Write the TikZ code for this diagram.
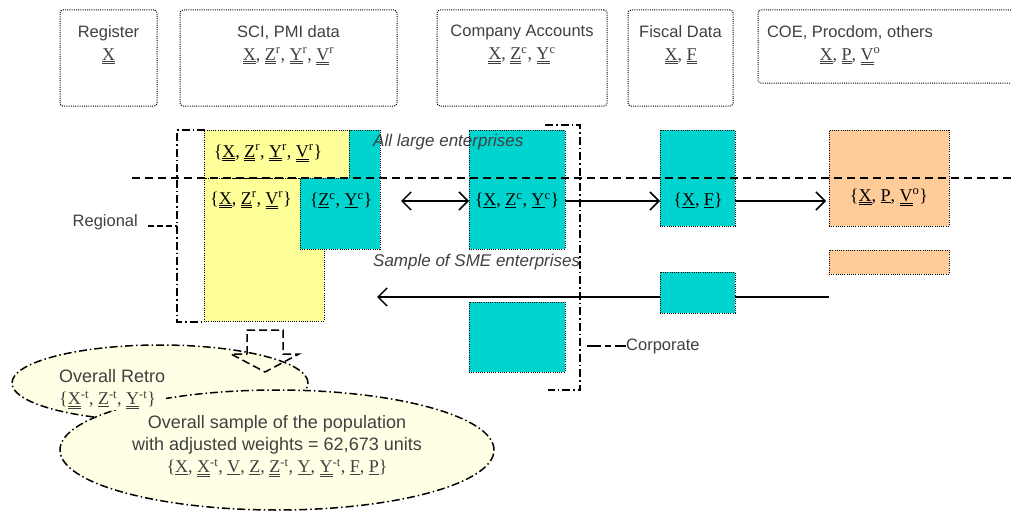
\documentclass[tikz,border=0pt]{standalone}
\usepackage{fontspec}
\setmainfont{Liberation Sans}
\newfontfamily\fm{Liberation Serif}
\usetikzlibrary{arrows.meta,positioning,shapes.geometric,calc}
\definecolor{txtc}{HTML}{404040}
\definecolor{cyanc}{HTML}{00D4CE}
\definecolor{yelc}{HTML}{FFFF99}
\definecolor{orac}{HTML}{FFCC99}
\definecolor{crmc}{HTML}{FFFFE6}
\newcommand{\du}[1]{\underline{\underline{#1}}}
\newcommand{\su}[1]{\underline{#1}}
\newcommand{\tsup}[1]{\textsuperscript{#1}}
\newcommand{\fx}[1]{{\fm\fontsize{18}{20}\selectfont#1}}
\tikzset{
  src/.style={draw,rounded corners=3pt,line width=1pt,dash pattern=on 1pt off 1.2pt,anchor=north west,inner sep=0pt,outer sep=0pt},
  blk/.style={draw,line width=1pt,dash pattern=on 1pt off 1.2pt,anchor=north west,inner sep=0pt,outer sep=0pt},
  lbl/.style={text=txtc,font=\fontsize{16.5}{20}\selectfont,align=center,inner sep=0pt},
  big/.style={lbl,font=\fontsize{18}{21}\selectfont},
  fml/.style={inner sep=0pt,font=\fm\fontsize{18}{20}\selectfont},
  note/.style={text=txtc,font=\fontsize{17}{20}\selectfont\itshape,inner sep=0pt},
  dd/.style={line width=1.5pt,dash pattern=on 8pt off 3pt on 1.5pt off 3pt},
  ar/.style={-{Straight Barb[length=9pt,width=18pt]},line width=1.5pt},
  oval/.style={ellipse,draw,dd,fill=crmc,inner sep=0pt}
}
\begin{document}
\begin{tikzpicture}[x=1pt,y=-1pt]
\useasboundingbox (0,0) rectangle (1011,511);
% data sources
\node[src,minimum width=97,minimum height=96] (reg) at (60,10) {};
\node[src,minimum width=217,minimum height=96] (sci) at (180,10) {};
\node[src,minimum width=170,minimum height=96] (cac) at (437,10) {};
\node[src,minimum width=105,minimum height=96] (fis) at (628,10) {};
\node[src,minimum width=256,minimum height=73] (coe) at (758,10) {};
\node[lbl,below=15pt of reg.north] (regt) {Register\\[3pt]\fx{\du{X}}};
\node[lbl,below=15pt of sci.north] (scit) {SCI, PMI data\\[3pt]\fx{\du{X}, \du{Z}\tsup{r}, \du{Y}\tsup{r}, \du{V}\tsup{r}}};
\node[lbl,below=15pt of cac.north] (cact) {Company Accounts\\[3pt]\fx{\du{X}, \du{Z}\tsup{c}, \du{Y}\tsup{c}}};
\node[lbl,below=15pt of fis.north] (fist) {Fiscal Data\\[3pt]\fx{\du{X}, \du{F}}};
\node[lbl,below=15pt of coe.north,xshift=-36pt] (coet) {COE, Procdom, others\\[3pt]\fx{\du{X}, \du{P}, \du{V}\tsup{o}}};
% regional and corporate brackets
\draw[dd] (205,130) -- (177,130) -- (177,322) -- (205,322);
\draw[dd] (545,125) -- (580,125) -- (580,390) -- (548,390);
\node[lbl,anchor=east] (regl) at (138,222) {Regional};
\coordinate (regc) at (148,226);
\draw[line width=1.5pt,dash pattern=on 6pt off 3pt] (regc) -- (177,226);
\node[lbl,anchor=west] (corl) at (626,346) {Corporate};
\coordinate (corc) at (587,346);
\draw[line width=1.5pt,dash pattern=on 14pt off 4pt on 6pt off 4pt] (corc) -- (corl.west);
% regional survey
\node[blk,fill=yelc,minimum width=120,minimum height=143] (ylo) at (204,178) {};
\node[blk,fill=cyanc,minimum width=80,minimum height=119] (czy) at (300,130) {};
\node[blk,fill=yelc,minimum width=145,minimum height=48] (yhi) at (204,130) {};
\node[fml] (yhit) at (268,153) {\{\du{X}, \du{Z}\tsup{r}, \du{Y}\tsup{r}, \du{V}\tsup{r}\}};
\node[fml] (ylot) at (251,200) {\{\du{X}, \du{Z}\tsup{r}, \du{V}\tsup{r}\}};
\node[fml] (czyt) at (341,201) {\{\su{Z}\tsup{c}, \su{Y}\tsup{c}\}};
% corporate, fiscal and other sources
\node[blk,fill=cyanc,minimum width=96,minimum height=119] (ca) at (469,130) {};
\node[blk,fill=cyanc,minimum width=96,minimum height=70] (cb) at (469,302) {};
\node[blk,fill=cyanc,minimum width=75,minimum height=96] (fd) at (660,130) {};
\node[blk,fill=cyanc,minimum width=75,minimum height=41] (fs) at (660,272) {};
\node[blk,fill=orac,minimum width=120,minimum height=96] (co) at (829,130) {};
\node[blk,fill=orac,minimum width=120,minimum height=24] (cs) at (829,250) {};
\node[fml] (cat) at (517,201) {\{\su{X}, \su{Z}\tsup{c}, \su{Y}\tsup{c}\}};
\node[fml] (fdt) at (698,201) {\{\su{X}, \su{F}\}};
\node[fml] (cot) at (889,197) {\{\du{X}, \su{P}, \du{V}\tsup{o}\}};
\node[note,anchor=west] (allt) at (373,142) {All large enterprises};
\node[note,anchor=west] (smet) at (373,262) {Sample of SME enterprises};
% flows
\coordinate (dl) at (401,201);
\coordinate (lr) at (829,297);
\coordinate (ll) at (377,297);
\draw[{Straight Barb[length=9pt,width=18pt]}-{Straight Barb[length=9pt,width=18pt]},line width=1.5pt] (dl) -- (dl -| ca.west);
\draw[ar] (dl -| ca.east) -- (dl -| fd.west);
\draw[ar] (dl -| fd.east) -- ([xshift=-3pt]dl -| co.west);
\draw[line width=1.5pt] (lr) -- (lr -| fs.east);
\draw[ar] (lr -| fs.west) -- (ll);
\draw[line width=1.5pt,dash pattern=on 8pt off 5pt] (132,178) -- (1011,178);
% overall samples
\node[oval,minimum width=296,minimum height=76] (retro) at (160,383) {};
\draw[line width=1.5pt,dash pattern=on 8pt off 4pt] (247,354) -- (247,330) -- (283,330) -- (283,354) -- (299,354) -- (265,372) -- (231,354) -- cycle;
\node[oval,minimum width=434,minimum height=120] (pop) at (277,450) {};
\node[big,anchor=west,align=left,fill=crmc,inner sep=1pt] (retrot) at (58,389) {Overall Retro\\[1pt]\fx{\{\du{X}\tsup{-t}, \su{Z}\tsup{-t}, \du{Y}\tsup{-t}\}}};
\node[big] (popt) at (277,446) {Overall sample of the population\\[1pt]with adjusted weights = 62,673 units\\[1pt]\fx{\{\su{X}, \du{X}\tsup{-t}, \su{V}, \su{Z}, \du{Z}\tsup{-t}, \su{Y}, \du{Y}\tsup{-t}, \su{F}, \su{P}\}}};
\end{tikzpicture}
\end{document}
